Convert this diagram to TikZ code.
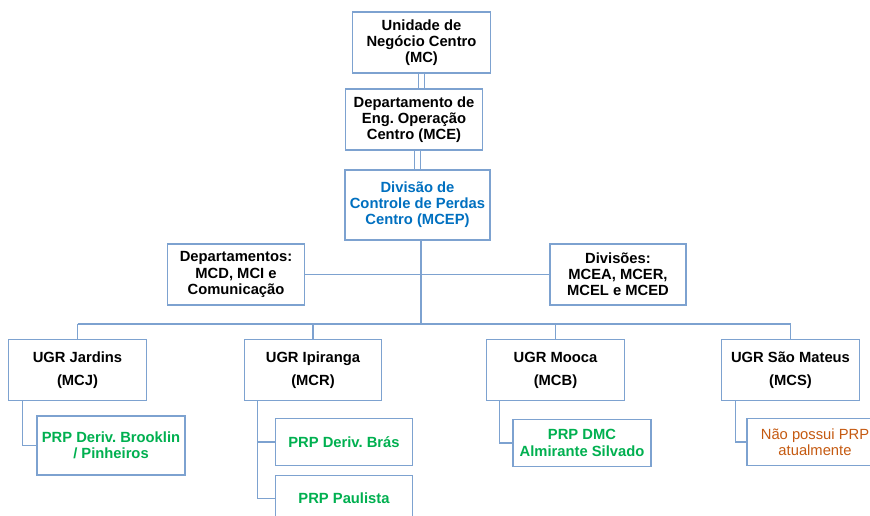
\documentclass[tikz,border=0pt]{standalone}
\usepackage{fontspec}
\setmainfont{Liberation Sans}
\usepackage{xcolor}
\definecolor{boxline}{RGB}{125,162,208}
\definecolor{mcepblue}{RGB}{0,112,192}
\definecolor{prpgreen}{RGB}{0,176,80}
\definecolor{semprp}{RGB}{197,90,17}
\frenchspacing

\begin{document}
\begin{tikzpicture}[x=0.02cm, y=-0.02cm,
    box/.style={draw=boxline, line width=0.6pt, fill=white, align=center, inner sep=0pt,
        minimum width=2.75cm, minimum height=1.22cm, font=\bfseries\fontsize{8.4}{9.2}\selectfont},
    ugr/.style={box, font=\bfseries\fontsize{8.4}{13}\selectfont},
    prp/.style={box, text=prpgreen, minimum height=0.93cm},
    link/.style={draw=boxline, line width=0.6pt}]
    \useasboundingbox (0,0) rectangle (870,516);

    % Top of the chart
    \node[box] (mc) at (421.5,42.5) {Unidade de\\Negócio Centro\\(MC)};
    \node[box] (mce) at (414,119.5) {Departamento de\\Eng. Operação\\Centro (MCE)};
    \node[box, text=mcepblue, minimum width=2.9cm, minimum height=1.4cm] (mcep) at (417.5,205)
        {Divisão de\\Controle de Perdas\\Centro (MCEP)};

    % Side boxes
    \node[box] (dept) at (236,274.5) {Departamentos:\\MCD, MCI e\\Comunicação};
    \node[box, minimum width=2.72cm] (divs) at (618,274.5) {Divisões:\\MCEA, MCER,\\MCEL e MCED};

    % UGRs
    \node[ugr] (jardins) at (77.5,370) {UGR Jardins\\(MCJ)};
    \node[ugr] (ipiranga) at (313,370) {UGR Ipiranga\\(MCR)};
    \node[ugr] (mooca) at (555.5,370) {UGR Mooca\\(MCB)};
    \node[ugr] (smateus) at (790.5,370) {UGR São Mateus\\(MCS)};

    % PRPs
    \node[prp, minimum width=2.96cm, minimum height=1.18cm] (brooklin) at (111,445.5) {PRP Deriv. Brooklin\\/ Pinheiros};
    \node[prp] (bras) at (344,442) {PRP Deriv. Brás};
    \node[prp] (paulista) at (344,498.5) {PRP Paulista};
    \node[prp, minimum width=2.76cm] (dmc) at (582,443) {PRP DMC\\Almirante Silvado};
    \node[prp, minimum width=2.72cm, text=semprp, font=\fontsize{8.4}{9.2}\selectfont] (naoprp) at (815,442)
        {Não possui PRP\\atualmente};

    % Connectors
    \coordinate (hub) at (421,324);
    \draw[link, double, double distance=2.5pt] (mc.south) -- (mc.south |- mce.north);
    \draw[link, double, double distance=2.5pt] (mcep.north |- mce.south) -- (mcep.north);
    \draw[link] (mcep.south -| hub) -- (hub);
    \draw[link] (dept.east) -- (divs.west);
    \draw[link] (jardins.north |- hub) -- (smateus.north |- hub);
    \foreach \u in {jardins,ipiranga,mooca,smateus} {
        \draw[link] (\u.north |- hub) -- (\u.north);
    }
    \draw[link] ([xshift=0.29cm]jardins.south west) |- (brooklin.west);
    \draw[link] ([xshift=0.28cm]ipiranga.south west) |- (bras.west);
    \draw[link] ([xshift=0.28cm]ipiranga.south west) |- (paulista.west);
    \draw[link] ([xshift=0.27cm]mooca.south west) |- (dmc.west);
    \draw[link] ([xshift=0.28cm]smateus.south west) |- (naoprp.west);
\end{tikzpicture}
\end{document}
